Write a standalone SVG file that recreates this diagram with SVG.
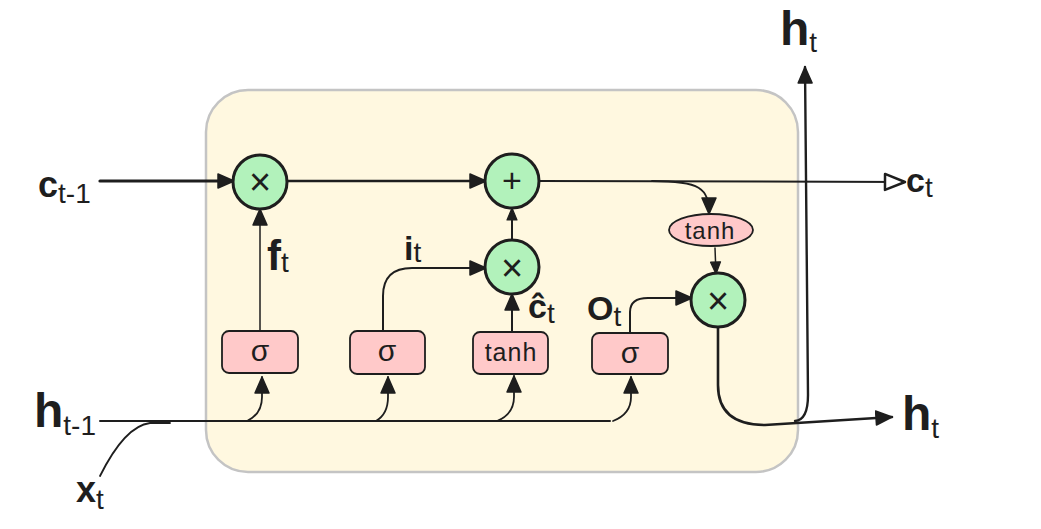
<svg xmlns="http://www.w3.org/2000/svg" width="1041" height="529" viewBox="0 0 1041 529">
<defs>
<marker id="a" markerUnits="userSpaceOnUse" markerWidth="18" markerHeight="16" refX="17" refY="8" orient="auto"><path d="M1,1 L17,8 L1,15 Z" fill="#1e1e1e" stroke="#1e1e1e" stroke-width="1.5" stroke-linejoin="round"/></marker>
<marker id="s" markerUnits="userSpaceOnUse" markerWidth="14" markerHeight="12" refX="13" refY="6" orient="auto"><path d="M1,1 L13,6 L1,11 Z" fill="#1e1e1e" stroke="#1e1e1e" stroke-width="1.2" stroke-linejoin="round"/></marker>
<marker id="h" markerUnits="userSpaceOnUse" markerWidth="24" markerHeight="20" refX="22" refY="10" orient="auto"><path d="M2,2 L22,10 L2,18 Z" fill="#fff" stroke="#1e1e1e" stroke-width="2.5" stroke-linejoin="round"/></marker>
</defs>
<style>
.op{fill:#b2f2bb;stroke:#1e1e1e;stroke-width:3}
.bx{fill:#ffc9c9;stroke:#1e1e1e;stroke-width:1.8}
.c{fill:none;stroke:#1e1e1e;stroke-linecap:round;stroke-linejoin:round}
.t{font-family:"Liberation Sans","DejaVu Sans",sans-serif;fill:#1e1e1e}
.big{font-weight:bold}
.in{text-anchor:middle;dominant-baseline:central}
.sb{font-size:28px}
</style>
<rect x="0" y="0" width="1041" height="529" fill="#ffffff"/>
<rect id="cell" x="206" y="90" width="592" height="382" rx="42" fill="#fff8e0" stroke="#c4c4c4" stroke-width="2.5"/>

<g id="connectors">
<path class="c" d="M100,181 L234,181" stroke-width="3.2" marker-end="url(#a)"/>
<path class="c" d="M287,181 L486,181" stroke-width="2.6" marker-end="url(#a)"/>
<path class="c" d="M539,181 L905,182" stroke-width="2" marker-end="url(#h)"/>
<path class="c" d="M652,181 C700,181 709,188 709,214" stroke-width="1.8" marker-end="url(#a)"/>
<path class="c" d="M715,248 L716,274" stroke-width="1.5" marker-end="url(#s)"/>
<path class="c" d="M260,330 L260,209" stroke-width="1.5" marker-end="url(#a)"/>
<path class="c" d="M383,330 L383,296 Q383,268 412,268 L486,268" stroke-width="2" marker-end="url(#a)"/>
<path class="c" d="M512,332 L512,294" stroke-width="2" marker-end="url(#a)"/>
<path class="c" d="M512,240 L512,208" stroke-width="2" marker-end="url(#s)"/>
<path class="c" d="M630,333 L630,312 Q630,298 648,298 L692,298" stroke-width="2" marker-end="url(#a)"/>
<path class="c" d="M718,327 L718,385 Q718,425 765,425 L892,417" stroke-width="2.6" marker-end="url(#a)"/>
<path class="c" d="M795,421 Q808,420 808,395 L805,67" stroke-width="2.4" marker-end="url(#a)"/>
<path class="c" d="M100,421 L610,421" stroke-width="2"/>
<path class="c" d="M100,476 Q125,426 150,423 L170,423" stroke-width="1.8"/>
<path class="c" d="M247,421 Q262,414 262,397 L262,377" stroke-width="1.8" marker-end="url(#a)"/>
<path class="c" d="M376,421 Q388,414 388,397 L388,377" stroke-width="1.8" marker-end="url(#a)"/>
<path class="c" d="M497,421 Q514,414 514,397 L514,376" stroke-width="1.8" marker-end="url(#a)"/>
<path class="c" d="M613,421 Q631,414 631,397 L631,377" stroke-width="1.8" marker-end="url(#a)"/>
</g>

<g id="mul1"><circle class="op" cx="260" cy="182" r="27"/><text class="t in" x="260" y="182" font-size="38">×</text></g>
<g id="add"><circle class="op" cx="512" cy="181" r="27"/><text class="t in" x="512" y="180" font-size="34">+</text></g>
<g id="mul2"><circle class="op" cx="512" cy="267" r="27"/><text class="t in" x="512" y="268" font-size="38">×</text></g>
<g id="mul3"><circle class="op" cx="718" cy="300" r="27"/><text class="t in" x="718" y="301" font-size="38">×</text></g>

<g id="sig1"><rect class="bx" x="222" y="331" width="76" height="42" rx="7"/><text class="t in" x="260" y="350" font-size="30">σ</text></g>
<g id="sig2"><rect class="bx" x="350" y="331" width="75" height="43" rx="7"/><text class="t in" x="387" y="350" font-size="30">σ</text></g>
<g id="tanh1"><rect class="bx" x="473" y="332" width="75" height="42" rx="7"/><text class="t in" x="511" y="352" font-size="25" letter-spacing="1">tanh</text></g>
<g id="sig3"><rect class="bx" x="592" y="333" width="76" height="41" rx="7"/><text class="t in" x="630" y="352" font-size="30">σ</text></g>
<g id="tanh2"><ellipse class="bx" cx="711" cy="230" rx="42" ry="16"/><text class="t in" x="710" y="230" font-size="24" letter-spacing="1">tanh</text></g>

<g id="labels">
<text class="t" x="38" y="197"><tspan class="big" font-size="36">c</tspan><tspan class="sb" dy="6">t-1</tspan></text>
<text class="t" x="906" y="192"><tspan class="big" font-size="34">c</tspan><tspan class="sb" dy="5">t</tspan></text>
<text class="t" x="780" y="45"><tspan class="big" font-size="48">h</tspan><tspan class="sb" dy="7">t</tspan></text>
<text class="t" x="902" y="430"><tspan class="big" font-size="48">h</tspan><tspan class="sb" dy="8">t</tspan></text>
<text class="t" x="34" y="427"><tspan class="big" font-size="48">h</tspan><tspan class="sb" dy="8">t-1</tspan></text>
<text class="t" x="76" y="502"><tspan class="big" font-size="36">x</tspan><tspan class="sb" dy="7">t</tspan></text>
<text class="t" x="267" y="270"><tspan class="big" font-size="42">f</tspan><tspan class="sb" dy="2">t</tspan></text>
<text class="t" x="404" y="260"><tspan class="big" font-size="34">i</tspan><tspan class="sb" dy="2">t</tspan></text>
<text class="t" x="528" y="318"><tspan class="big" font-size="34">ĉ</tspan><tspan class="sb" dy="5">t</tspan></text>
<text class="t" x="587" y="320"><tspan class="big" font-size="34">O</tspan><tspan class="sb" dy="6">t</tspan></text>
</g>
</svg>
